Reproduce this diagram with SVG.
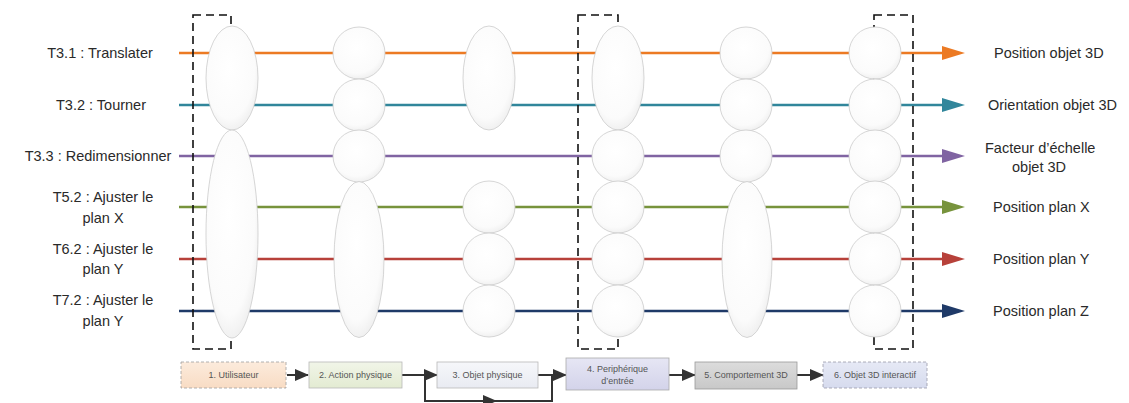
<svg xmlns="http://www.w3.org/2000/svg" width="1129" height="403" viewBox="0 0 1129 403">
<style>
.lbl{font-family:"Liberation Sans",Arial,sans-serif;font-size:14.5px;fill:#2a2a2a;}
.bx{font-family:"Liberation Sans",Arial,sans-serif;font-size:9px;fill:#555;text-anchor:middle;}
.bub{fill:url(#bg);stroke:#cccccc;stroke-width:0.8;}
.dash{fill:none;stroke:#111;stroke-width:1.6;stroke-dasharray:8,5;}
.ln{fill:none;stroke-width:2.6;}
.ca{fill:none;stroke:#333;stroke-width:2;}
</style>
<defs>
<radialGradient id="bg" cx="0.45" cy="0.4" r="0.65">
<stop offset="0" stop-color="#ffffff"/>
<stop offset="0.75" stop-color="#fbfbfb"/>
<stop offset="1" stop-color="#ececec"/>
</radialGradient>
<linearGradient id="g1" x1="0" y1="0" x2="0" y2="1"><stop offset="0" stop-color="#fcebdc"/><stop offset="1" stop-color="#f8dcc4"/></linearGradient>
<linearGradient id="g2" x1="0" y1="0" x2="0" y2="1"><stop offset="0" stop-color="#f1f5e8"/><stop offset="1" stop-color="#e3ebd2"/></linearGradient>
<linearGradient id="g3" x1="0" y1="0" x2="0" y2="1"><stop offset="0" stop-color="#f6f7fa"/><stop offset="1" stop-color="#e9ebf2"/></linearGradient>
<linearGradient id="g4" x1="0" y1="0" x2="0" y2="1"><stop offset="0" stop-color="#e6e6f4"/><stop offset="1" stop-color="#d3d3ea"/></linearGradient>
<linearGradient id="g5" x1="0" y1="0" x2="0" y2="1"><stop offset="0" stop-color="#dcdcdc"/><stop offset="1" stop-color="#c8c8c8"/></linearGradient>
<linearGradient id="g6" x1="0" y1="0" x2="0" y2="1"><stop offset="0" stop-color="#e6e9f5"/><stop offset="1" stop-color="#d6dbee"/></linearGradient>
<marker id="mk" markerUnits="userSpaceOnUse" markerWidth="14" markerHeight="12" refX="13" refY="6" orient="auto"><path d="M0,0 L14,6 L0,12 Z" fill="#333"/></marker>
</defs>

<g id="connectors">
<line class="ln" x1="179" y1="53" x2="945" y2="53" stroke="#ec7a23"/>
<line class="ln" x1="179" y1="105" x2="945" y2="105" stroke="#31869b"/>
<line class="ln" x1="179" y1="156" x2="945" y2="156" stroke="#8064a2"/>
<line class="ln" x1="179" y1="207" x2="945" y2="207" stroke="#77933c"/>
<line class="ln" x1="179" y1="259" x2="945" y2="259" stroke="#b7413a"/>
<line class="ln" x1="179" y1="311" x2="945" y2="311" stroke="#1f3a68"/>
<polygon points="942,46 965,53 942,60" fill="#ec7a23"/>
<polygon points="942,98 965,105 942,112" fill="#31869b"/>
<polygon points="942,149 965,156 942,163" fill="#8064a2"/>
<polygon points="942,200 965,207 942,214" fill="#77933c"/>
<polygon points="942,252 965,259 942,266" fill="#b7413a"/>
<polygon points="942,304 965,311 942,318" fill="#1f3a68"/>
<line class="ca" x1="287" y1="375" x2="308" y2="375" marker-end="url(#mk)"/>
<line class="ca" x1="402" y1="375" x2="437" y2="375" marker-end="url(#mk)"/>
<path class="ca" d="M425,375 V401 H552 V375"/>
<line class="ca" x1="470" y1="401" x2="496" y2="401" marker-end="url(#mk)"/>
<line class="ca" x1="538" y1="375" x2="566" y2="375" marker-end="url(#mk)"/>
<line class="ca" x1="669" y1="375" x2="695" y2="375" marker-end="url(#mk)"/>
<line class="ca" x1="797" y1="375" x2="823" y2="375" marker-end="url(#mk)"/>
</g>

<g id="frames">
<rect class="dash" x="193" y="15" width="38" height="334"/>
<rect class="dash" x="578" y="15" width="40" height="334"/>
<rect class="dash" x="874" y="15" width="39" height="334"/>
</g>

<g id="col1">
<ellipse class="bub" cx="232" cy="78" rx="26" ry="52"/>
<ellipse class="bub" cx="232" cy="234" rx="26" ry="104"/>
</g>
<g id="col2">
<circle class="bub" cx="359" cy="53" r="26"/>
<circle class="bub" cx="359" cy="105" r="26"/>
<circle class="bub" cx="359" cy="156" r="26"/>
<ellipse class="bub" cx="359" cy="259.5" rx="25" ry="78"/>
</g>
<g id="col3">
<ellipse class="bub" cx="489" cy="78" rx="26" ry="52"/>
<circle class="bub" cx="489" cy="207" r="26"/>
<circle class="bub" cx="489" cy="259" r="26"/>
<circle class="bub" cx="489" cy="311" r="26"/>
</g>
<g id="col4">
<ellipse class="bub" cx="618" cy="78" rx="26" ry="52"/>
<circle class="bub" cx="618" cy="156" r="26"/>
<circle class="bub" cx="618" cy="207" r="26"/>
<circle class="bub" cx="618" cy="259" r="26"/>
<circle class="bub" cx="618" cy="311" r="26"/>
</g>
<g id="col5">
<circle class="bub" cx="746" cy="53" r="26"/>
<circle class="bub" cx="746" cy="105" r="26"/>
<circle class="bub" cx="746" cy="156" r="26"/>
<ellipse class="bub" cx="747" cy="259.5" rx="25" ry="78"/>
</g>
<g id="col6">
<circle class="bub" cx="875" cy="53" r="26"/>
<circle class="bub" cx="875" cy="105" r="26"/>
<circle class="bub" cx="875" cy="156" r="26"/>
<circle class="bub" cx="875" cy="207" r="26"/>
<circle class="bub" cx="875" cy="259" r="26"/>
<circle class="bub" cx="875" cy="311" r="26"/>
</g>

<g id="left-labels" text-anchor="middle">
<text class="lbl" x="100" y="58">T3.1 : Translater</text>
<text class="lbl" x="101" y="110">T3.2 : Tourner</text>
<text class="lbl" x="98" y="161">T3.3 : Redimensionner</text>
<text class="lbl" x="103" y="202">T5.2 : Ajuster le</text>
<text class="lbl" x="103" y="223">plan X</text>
<text class="lbl" x="103" y="254">T6.2 : Ajuster le</text>
<text class="lbl" x="103" y="274">plan Y</text>
<text class="lbl" x="103" y="305">T7.2 : Ajuster le</text>
<text class="lbl" x="103" y="326">plan Y</text>
</g>

<g id="right-labels">
<text class="lbl" x="994" y="58">Position objet 3D</text>
<text class="lbl" x="988" y="110">Orientation objet 3D</text>
<text class="lbl" x="985" y="153">Facteur d’échelle</text>
<text class="lbl" x="1012" y="172">objet 3D</text>
<text class="lbl" x="993" y="212">Position plan X</text>
<text class="lbl" x="993" y="264">Position plan Y</text>
<text class="lbl" x="993" y="316">Position plan Z</text>
</g>

<g id="box1"><rect x="181" y="362" width="105" height="26" fill="url(#g1)" stroke="#a0a0a0" stroke-width="0.8" stroke-dasharray="3,2"/><text class="bx" x="233.5" y="378">1. Utilisateur</text></g>
<g id="box2"><rect x="309" y="362" width="93" height="26" fill="url(#g2)" stroke="#b8b8b8" stroke-width="0.8"/><text class="bx" x="355.5" y="378">2. Action physique</text></g>
<g id="box3"><rect x="437" y="362" width="101" height="26" fill="url(#g3)" stroke="#b8b8b8" stroke-width="0.8"/><text class="bx" x="487.5" y="378">3. Objet physique</text></g>
<g id="box4"><rect x="566" y="358" width="103" height="32" fill="url(#g4)" stroke="#aaaaaa" stroke-width="0.8"/><text class="bx" x="617.5" y="372">4. Periphérique</text><text class="bx" x="617.5" y="384">d’entrée</text></g>
<g id="box5"><rect x="695" y="362" width="102" height="27" fill="url(#g5)" stroke="#999999" stroke-width="0.8"/><text class="bx" x="746" y="378">5. Comportement 3D</text></g>
<g id="box6"><rect x="823" y="362" width="104" height="26" fill="url(#g6)" stroke="#9a9aa8" stroke-width="0.8" stroke-dasharray="3,2"/><text class="bx" x="875" y="378">6. Objet 3D interactif</text></g>
</svg>
